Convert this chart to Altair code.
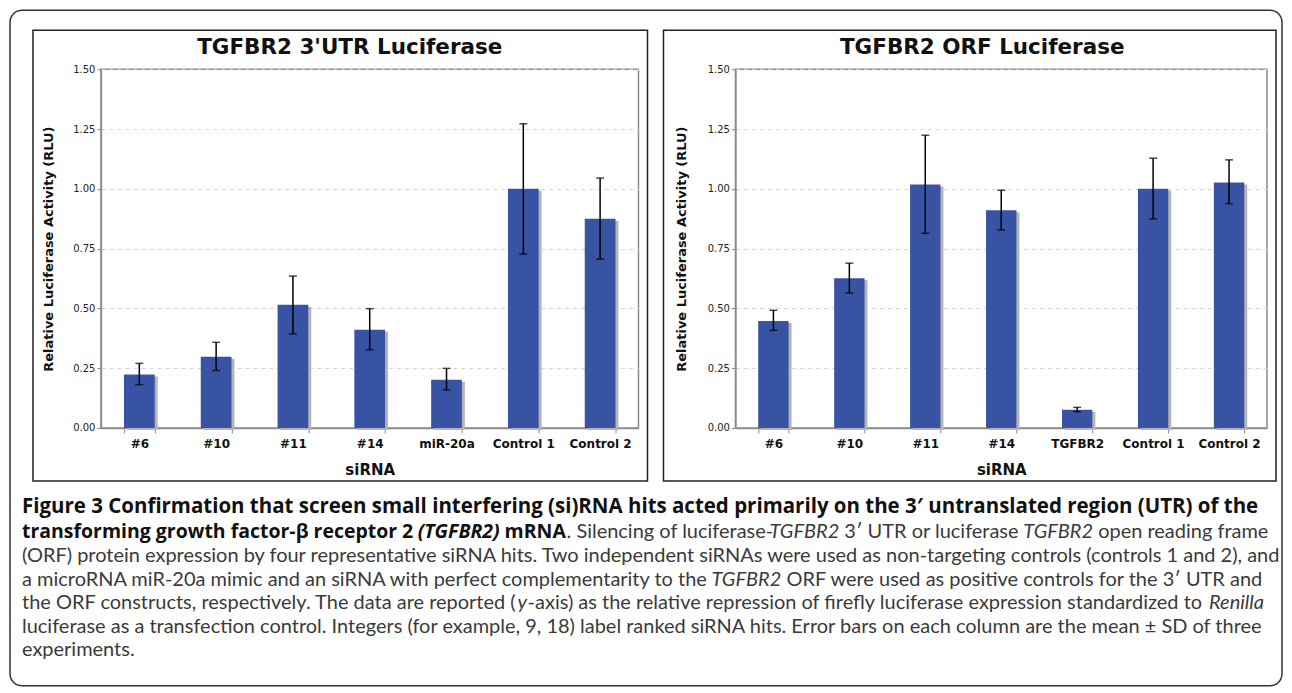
import altair as alt
import pandas as pd

# ---------------- data ----------------
utr_cats = ["#6", "#10", "#11", "#14", "miR-20a", "Control 1", "Control 2"]
utr_vals = [0.223, 0.298, 0.515, 0.411, 0.202, 1.000, 0.875]
utr_lo = [0.181, 0.240, 0.393, 0.327, 0.159, 0.727, 0.706]
utr_hi = [0.270, 0.358, 0.635, 0.499, 0.249, 1.272, 1.045]

orf_cats = ["#6", "#10", "#11", "#14", "TGFBR2", "Control 1", "Control 2"]
orf_vals = [0.447, 0.626, 1.018, 0.910, 0.076, 1.000, 1.026]
orf_lo = [0.408, 0.564, 0.814, 0.828, 0.068, 0.874, 0.938]
orf_hi = [0.492, 0.689, 1.224, 0.994, 0.086, 1.128, 1.121]

y_ticks = [0.0, 0.25, 0.5, 0.75, 1.0, 1.25, 1.5]

title_utr = "TGFBR2 3'UTR Luciferase"
title_orf = "TGFBR2 ORF Luciferase"
y_title = "Relative Luciferase Activity (RLU)"
x_title = "siRNA"

cap1 = "Figure 3 Confirmation that screen small interfering (si)RNA hits acted primarily on the 3\u2032 untranslated region (UTR) of the"
cap2a = "transforming growth factor-\u03b2 receptor 2"
cap2b = "(TGFBR2)"
cap2c = "mRNA"
cap2d = ". Silencing of luciferase-"
cap2e = "TGFBR2"
cap2f = "3\u2032 UTR or luciferase"
cap2g = "TGFBR2"
cap2h = "open reading frame"
cap3 = "(ORF) protein expression by four representative siRNA hits. Two independent siRNAs were used as non-targeting controls (controls 1 and 2), and"
cap4a = "a microRNA miR-20a mimic and an siRNA with perfect complementarity to the"
cap4b = "TGFBR2"
cap4c = "ORF were used as positive controls for the 3\u2032 UTR and"
cap5a = "the ORF constructs, respectively. The data are reported ("
cap5b = "y"
cap5c = "-axis) as the relative repression of firefly luciferase expression standardized to"
cap5d = "Renilla"
cap6 = "luciferase as a transfection control. Integers (for example, 9, 18) label ranked siRNA hits. Error bars on each column are the mean \u00b1 SD of three"
cap7 = "experiments."

# ---------------- style ----------------
BLUE = "#3953A4"
SHADOW = "#b5b5b5"
GRAYLINE = "#8c8c8c"
CHART_FONT = "DejaVu Sans"
CAP_FONT = "Lato"
BOLD_FONT = "Open Sans"
H = 359
OX, OY = 101, 69  # page position of left plot origin


def one(**kw):
    return pd.DataFrame({k: [v] for k, v in kw.items()})


def label_text(s, x, y, size, weight="bold", style="normal", color="#111",
               font=CHART_FONT, align="center"):
    return alt.Chart(one(t=s)).mark_text(
        align=align, baseline="middle", font=font, fontSize=size,
        fontWeight=weight, fontStyle=style, color=color
    ).encode(text="t:N", x=alt.value(x), y=alt.value(y))


def frame(x0, x1, y0, y1, color="#222", width=1.5, radius=0):
    return alt.Chart(one(a=0)).mark_rect(
        fillOpacity=0, stroke=color, strokeWidth=width, cornerRadius=radius
    ).encode(x=alt.value(x0), x2=alt.value(x1), y=alt.value(y0), y2=alt.value(y1))


def panel(cats, vals, lo, hi, title, title_x, ytitle_x, frame_x0, frame_x1):
    df = pd.DataFrame({"siRNA": cats, "v": vals, "lo": lo, "hi": hi})
    base = alt.Chart(df)
    x = alt.X("siRNA:N", sort=cats,
              scale=alt.Scale(paddingInner=0.6, paddingOuter=0.3),
              axis=alt.Axis(title=x_title, labelAngle=0, tickBand="extent",
                            tickSize=5, labelPadding=6, labelFont=CHART_FONT,
                            labelFontSize=12, labelFontWeight="bold",
                            labelColor="#111", titleFont=CHART_FONT,
                            titleFontSize=15, titleFontWeight="bold",
                            titleColor="#111", titleY=42, titleBaseline="middle",
                            grid=False))
    y = alt.Y("v:Q", scale=alt.Scale(domain=[0, 1.5], nice=False, zero=True),
              axis=alt.Axis(title=y_title, values=y_ticks, format=".2f",
                            tickSize=4, labelPadding=2, labelFont=CHART_FONT,
                            labelFontSize=10, labelColor="#222",
                            titleFont=CHART_FONT, titleFontSize=13,
                            titleFontWeight="bold", titleColor="#111",
                            titleX=ytitle_x, titleY=H / 2, titleAngle=270,
                            titleBaseline="middle", titleAlign="center",
                            grid=True, gridDash=[4, 4], gridColor="#d4d4d4",
                            gridWidth=1))
    shadow = base.mark_bar(color=SHADOW, xOffset=3, yOffset=2).encode(x=x, y=y)
    bars = base.mark_bar(color=BLUE).encode(x=x, y=y)
    xr = alt.X("siRNA:N", sort=cats)
    rule = base.mark_rule(color="#000", strokeWidth=1.5).encode(
        x=xr, y=alt.Y("lo:Q"), y2="hi:Q")
    cap_hi = base.mark_tick(color="#000", thickness=1.5, size=8).encode(
        x=xr, y=alt.Y("hi:Q"))
    cap_lo = base.mark_tick(color="#000", thickness=1.5, size=8).encode(
        x=xr, y=alt.Y("lo:Q"))
    ttl = label_text(title, title_x, -21, 21.5)
    fr = frame(frame_x0, frame_x1, -39, 412)
    return [fr, shadow, bars, rule, cap_hi, cap_lo, ttl]


def cap(s, px, py, weight="normal", style="normal", size=20, color="#3a3a3a",
        font=CAP_FONT):
    return label_text(s, px - OX, py - OY, size, weight=weight, style=style,
                      color=color, font=font, align="left")


B = "bold"
I = "italic"
BK = "#111"


def bcap(s, px, py, style="normal", size=19.5):
    return cap(s, px, py, weight=B, style=style, size=size, color=BK, font=BOLD_FONT)


L1, L2, L3, L4, L5, L6, L7 = 507, 532, 556, 580, 603, 627, 650
captions = [
    bcap(cap1, 22, L1, size=20.5),
    bcap(cap2a, 22, L2),
    bcap(cap2b, 418, L2, style=I),
    bcap(cap2c, 505, L2),
    cap(cap2d, 567, L2),
    cap(cap2e, 770, L2, style=I),
    cap(cap2f, 845, L2),
    cap(cap2g, 1024, L2, style=I),
    cap(cap2h, 1099, L2),
    cap(cap3, 22, L3),
    cap(cap4a, 22, L4),
    cap(cap4b, 712, L4, style=I),
    cap(cap4c, 787, L4),
    cap(cap5a, 22, L5),
    cap(cap5b, 518, L5, style=I),
    cap(cap5c, 528, L5),
    cap(cap5d, 1210, L5, style=I),
    cap(cap6, 22, L6),
    cap(cap7, 22, L7),
]

outer = frame(10 - OX, 1283 - OX, 10 - OY, 686 - OY, color="#333", width=1.5, radius=12)

left_layers = panel(utr_cats, utr_vals, utr_lo, utr_hi, title_utr,
                    350 - 101, -52, 33 - 101, 648 - 101)
right_layers = panel(orf_cats, orf_vals, orf_lo, orf_hi, title_orf,
                     983 - 736, -54, 664 - 736, 1277 - 736)

left = alt.layer(outer, *left_layers, *captions).properties(width=538, height=H)
right = alt.layer(*right_layers).properties(width=532, height=H)

chart = alt.hconcat(left, right, spacing=97, bounds="flush").properties(
    padding=0
).configure_view(
    stroke=GRAYLINE, strokeWidth=1.5
).configure_axis(
    domainColor=GRAYLINE, tickColor=GRAYLINE, domainWidth=1.5
)

chart.save("out.html", embed_options={"renderer": "svg", "actions": False})
